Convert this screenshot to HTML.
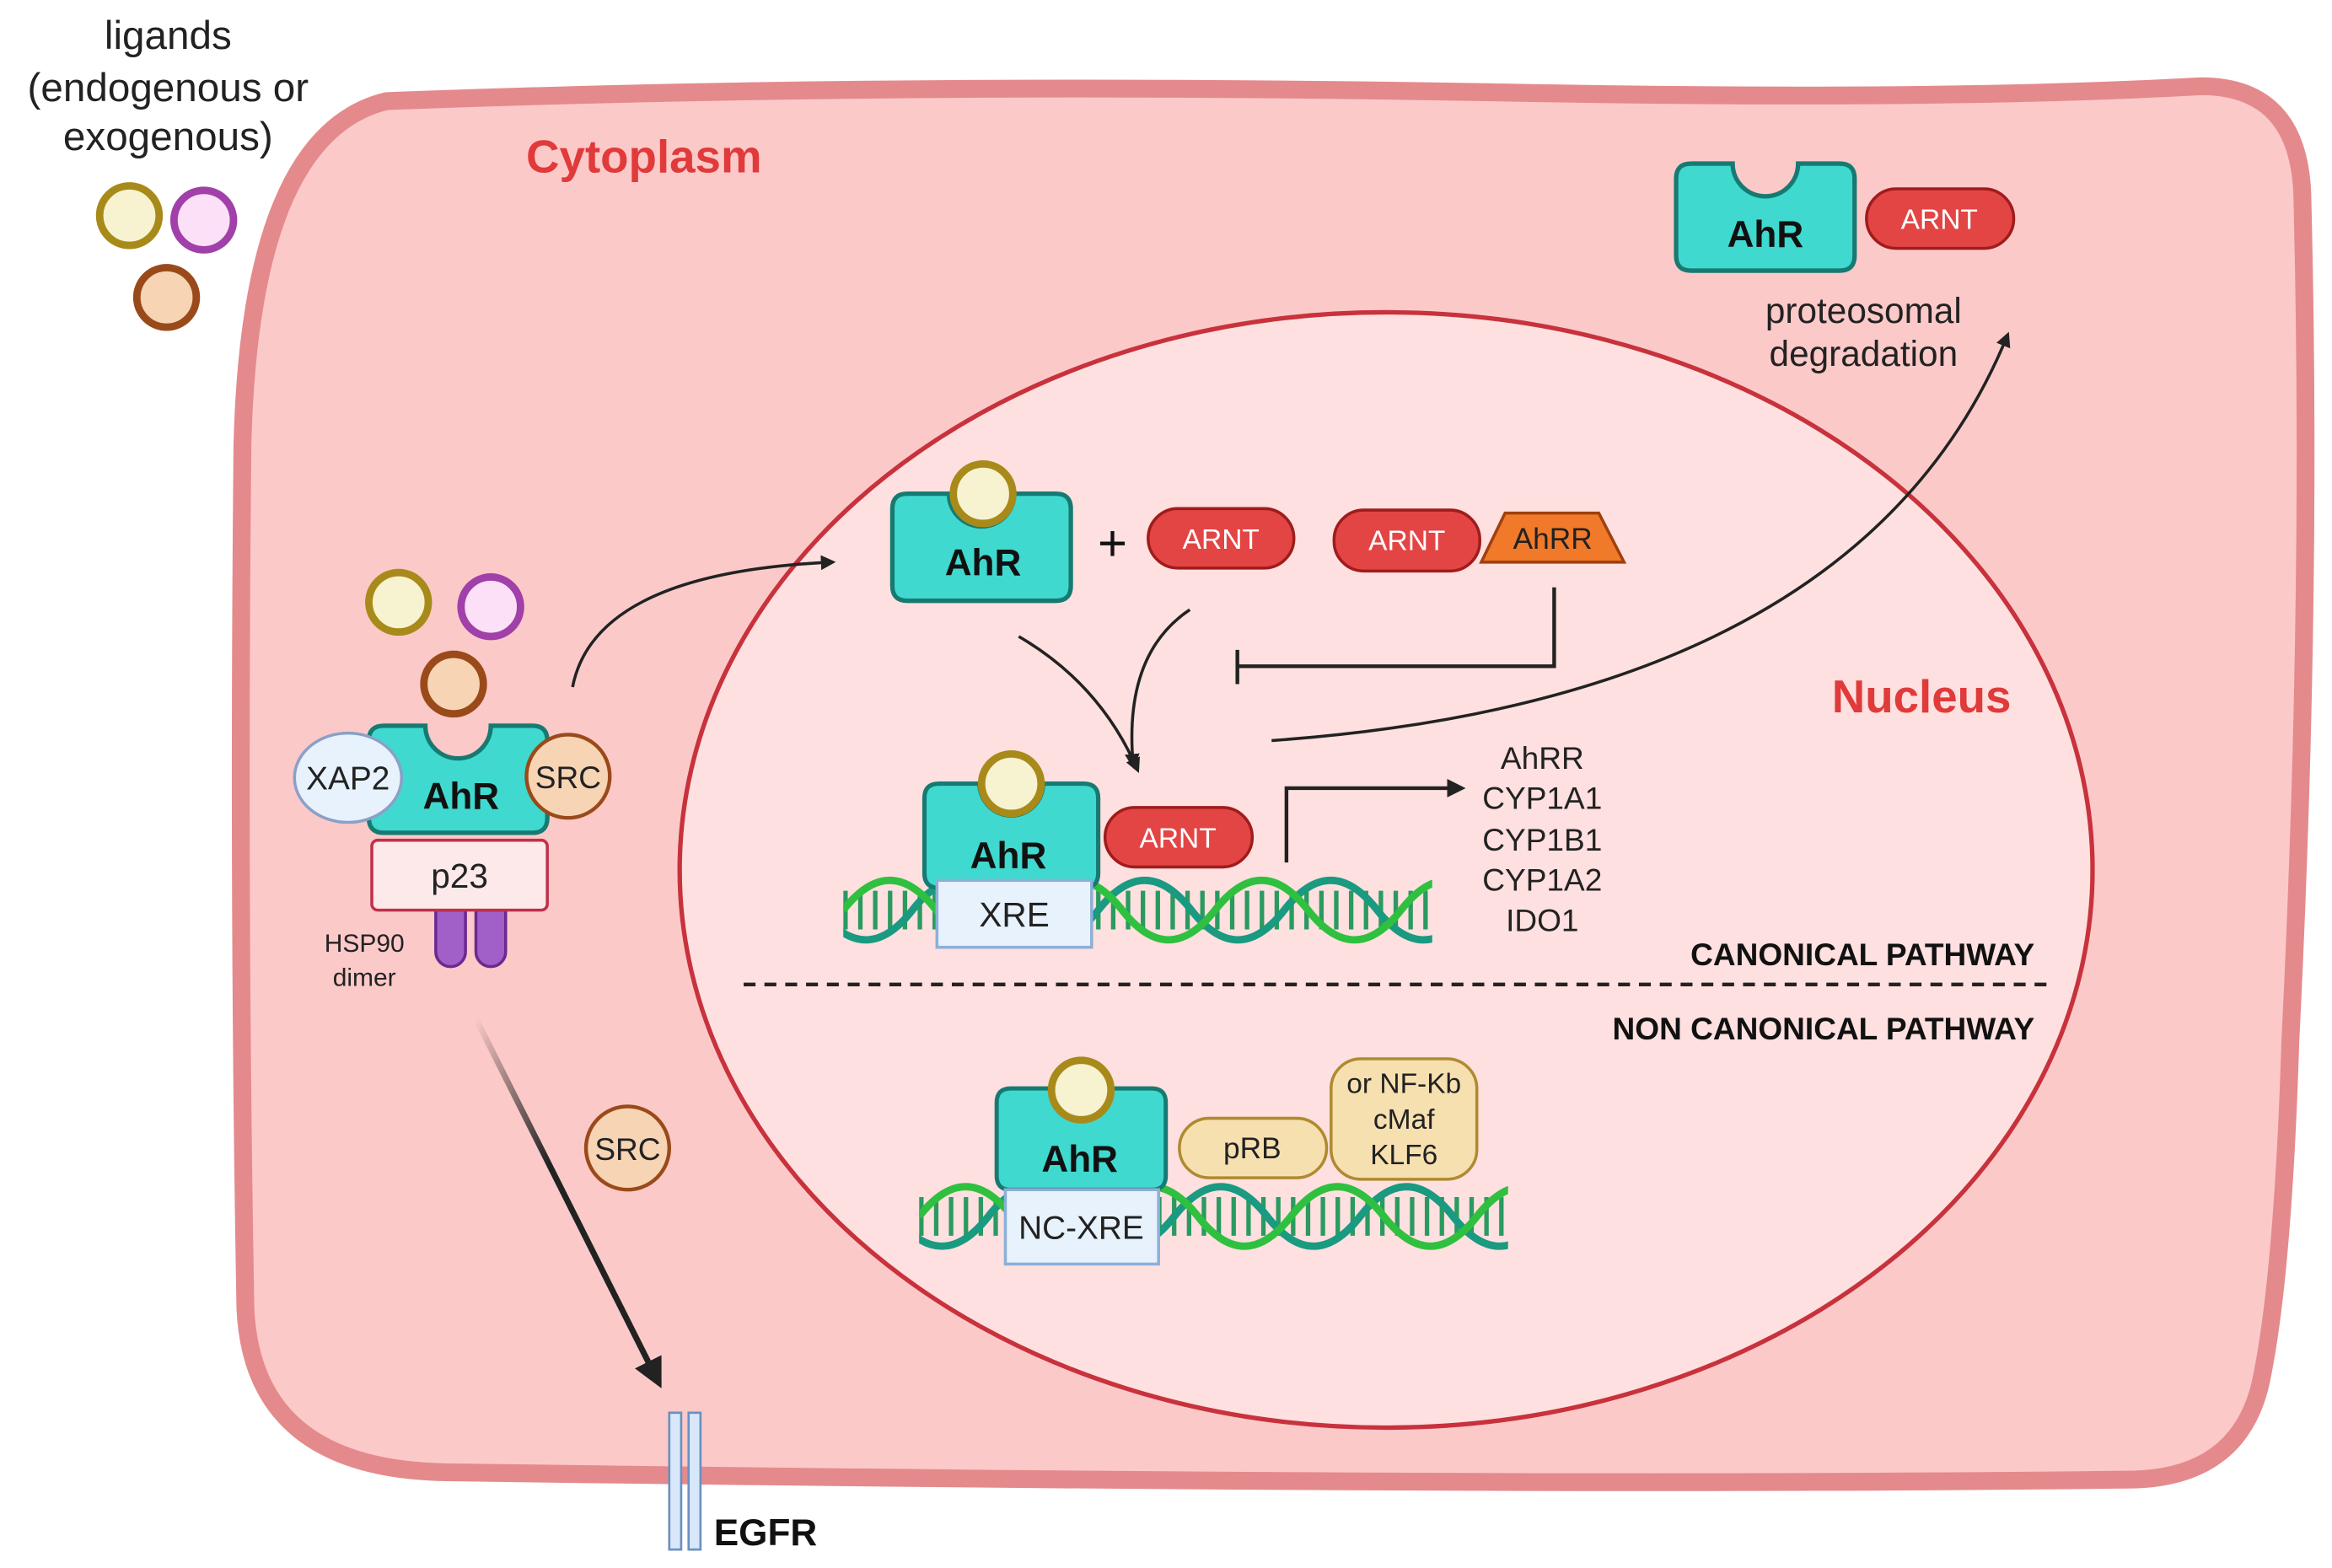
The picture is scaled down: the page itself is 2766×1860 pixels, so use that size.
<!DOCTYPE html>
<html><head><meta charset="utf-8"><style>
html,body{margin:0;padding:0;background:#fff;}
svg{display:block;}
text{font-family:"Liberation Sans",sans-serif;}
</style></head><body>
<svg width="2766" height="1860" viewBox="0 0 1568 1054.4" preserveAspectRatio="none" xmlns="http://www.w3.org/2000/svg">
<defs>
<symbol id="ahr" viewBox="0 0 124 76" overflow="visible">
<path d="M12,2 L40,2 A22,22 0 0 0 84,2 L112,2 Q122,2 122,12 L122,64 Q122,74 112,74 L12,74 Q2,74 2,64 L2,12 Q2,2 12,2 Z" fill="#3fd9cf" stroke="#177a72" stroke-width="3"/>
</symbol>
<marker id="ah" viewBox="0 0 10 10" refX="8" refY="5" markerWidth="5" markerHeight="5" orient="auto"><path d="M0,0 L10,5 L0,10 Z" fill="#222"/></marker>
<linearGradient id="gr" x1="0" y1="0" x2="1" y2="1"><stop offset="0" stop-color="#222" stop-opacity="0"/><stop offset="0.4" stop-color="#222"/></linearGradient>
<clipPath id="c1"><rect x="567" y="570" width="396" height="90"/></clipPath>
<clipPath id="c2"><rect x="618" y="776" width="396" height="90"/></clipPath>
<g id="dna">
<line x1="567" y1="612" x2="963" y2="612" stroke="#2a9a60" stroke-width="26" stroke-dasharray="3 7"/>
<path d="M551,612 Q582.25,652 613.5,612 T676,612 T738.5,612 T801,612 T863.5,612 T926,612 T988.5,612" fill="none" stroke="#1a9a80" stroke-width="5"/>
<path d="M567,612 Q598.25,572 629.5,612 T692,612 T754.5,612 T817,612 T879.5,612 T942,612 T1004.5,612" fill="none" stroke="#30c040" stroke-width="5"/>
</g>
</defs>
<rect width="1568" height="1054.4" fill="#fff"/>
<!-- cell -->
<path d="M260,68 Q600,55 1000,62 Q1300,68 1480,58 Q1545,58 1548,130 Q1555,400 1540,700 Q1535,860 1520,930 Q1505,995 1430,995 Q1000,1000 300,990 Q170,988 165,880 Q160,600 163,300 Q168,90 260,68 Z" fill="#fcc9c9" stroke="#e48a8c" stroke-width="12"/>
<!-- nucleus -->
<ellipse cx="932" cy="585" rx="475" ry="375" fill="#fde0df" stroke="#c8323c" stroke-width="3"/>
<text x="433" y="116" font-size="31" font-weight="bold" fill="#e03a3a" text-anchor="middle">Cytoplasm</text>
<text x="1292" y="479" font-size="31" font-weight="bold" fill="#e03a3a" text-anchor="middle">Nucleus</text>
<!-- ligands -->
<g font-size="27" fill="#222" text-anchor="middle"><text x="113" y="33">ligands</text><text x="113" y="68">(endogenous or</text><text x="113" y="101">exogenous)</text></g>
<g stroke-width="5">
<circle cx="87" cy="145" r="20" fill="#f7f2cf" stroke="#a88a1a"/>
<circle cx="137" cy="148" r="20" fill="#fbe0f7" stroke="#a040a8"/>
<circle cx="112" cy="200" r="20" fill="#f6d4b4" stroke="#9a4a1a"/>
<circle cx="268" cy="405" r="20" fill="#f7f2cf" stroke="#a88a1a"/>
<circle cx="330" cy="408" r="20" fill="#fbe0f7" stroke="#a040a8"/>
<circle cx="305" cy="460" r="20" fill="#f6d4b4" stroke="#9a4a1a"/>
</g>
<!-- top right -->
<use href="#ahr" x="1125" y="107" width="124" height="78"/>
<text x="1187" y="166" font-size="25" font-weight="bold" text-anchor="middle" fill="#111">AhR</text>
<rect x="1255" y="127" width="99" height="40" rx="20" fill="#e34545" stroke="#a01c1c" stroke-width="2"/>
<text x="1304" y="154" font-size="19" fill="#fff" text-anchor="middle">ARNT</text>
<text x="1253" y="217" font-size="24" text-anchor="middle" fill="#222">proteosomal</text>
<text x="1253" y="246" font-size="24" text-anchor="middle" fill="#222">degradation</text>
<path d="M855,498 Q1250,470 1350,225" fill="none" stroke="#222" stroke-width="2" marker-end="url(#ah)"/>
<!-- left complex -->
<path d="M293,612 h20 v28 a10,10 0 0 1 -20,0 Z M320,612 h20 v28 a10,10 0 0 1 -20,0 Z" fill="#a060c8" stroke="#6a2a90" stroke-width="2"/>
<rect x="250" y="565" width="118" height="47" rx="4" fill="#fde8ea" stroke="#c0304a" stroke-width="2"/>
<text x="309" y="597" font-size="23" text-anchor="middle" fill="#222">p23</text>
<use href="#ahr" x="246" y="485" width="124" height="78"/>
<text x="310" y="544" font-size="25" font-weight="bold" text-anchor="middle" fill="#111">AhR</text>
<ellipse cx="234" cy="523" rx="36" ry="30" fill="#e8f2fc" stroke="#8aa0c8" stroke-width="2"/>
<text x="234" y="531" font-size="22" text-anchor="middle" fill="#222">XAP2</text>
<circle cx="382" cy="522" r="28" fill="#f6d4b4" stroke="#9a4a1a" stroke-width="2.5"/>
<text x="382" y="530" font-size="21" text-anchor="middle" fill="#222">SRC</text>
<text x="245" y="640" font-size="17" text-anchor="middle" fill="#222">HSP90</text>
<text x="245" y="663" font-size="17" text-anchor="middle" fill="#222">dimer</text>
<path d="M385,462 Q400,385 560,378" fill="none" stroke="#222" stroke-width="2" marker-end="url(#ah)"/>
<!-- SRC / EGFR -->
<circle cx="422" cy="772" r="28" fill="#f6d4b4" stroke="#9a4a1a" stroke-width="2.5"/>
<text x="422" y="780" font-size="21" text-anchor="middle" fill="#222">SRC</text>
<path d="M320,685 L443,930" stroke="url(#gr)" stroke-width="4" fill="none" marker-end="url(#ah)"/>
<rect x="450" y="950" width="8" height="92" fill="#d8e8fa" stroke="#6a90c0" stroke-width="1.5"/>
<rect x="463" y="950" width="8" height="92" fill="#d8e8fa" stroke="#6a90c0" stroke-width="1.5"/>
<text x="480" y="1039" font-size="25" font-weight="bold" fill="#111">EGFR</text>
<!-- nucleus upper -->
<use href="#ahr" x="598" y="330" width="124" height="76"/>
<circle cx="661" cy="332" r="20" fill="#f7f2cf" stroke="#a88a1a" stroke-width="5"/>
<text x="661" y="387" font-size="25" font-weight="bold" text-anchor="middle" fill="#111">AhR</text>
<text x="748" y="377" font-size="34" text-anchor="middle" fill="#111">+</text>
<rect x="772" y="342" width="98" height="40" rx="20" fill="#e34545" stroke="#a01c1c" stroke-width="2"/>
<text x="821" y="369" font-size="19" fill="#fff" text-anchor="middle">ARNT</text>
<rect x="897" y="343" width="98" height="41" rx="20" fill="#e34545" stroke="#a01c1c" stroke-width="2"/>
<text x="946" y="370" font-size="19" fill="#fff" text-anchor="middle">ARNT</text>
<path d="M1012,345 L1075,345 L1092,378 L996,378 Z" fill="#f07a2a" stroke="#a04010" stroke-width="2"/>
<text x="1044" y="369" font-size="20" text-anchor="middle" fill="#222">AhRR</text>
<path d="M1045,395 V448 H832 M832,437 V460" fill="none" stroke="#222" stroke-width="2.5"/>
<path d="M685,428 Q740,460 765,518" fill="none" stroke="#222" stroke-width="2" marker-end="url(#ah)"/>
<path d="M800,410 Q755,440 762,515" fill="none" stroke="#222" stroke-width="2" marker-end="url(#ah)"/>
<g clip-path="url(#c1)"><use href="#dna"/></g>
<use href="#ahr" x="618" y="525" width="124" height="74"/>
<circle cx="680" cy="527" r="20" fill="#f7f2cf" stroke="#a88a1a" stroke-width="5"/>
<text x="678" y="584" font-size="25" font-weight="bold" text-anchor="middle" fill="#111">AhR</text>
<rect x="743" y="543" width="99" height="40" rx="20" fill="#e34545" stroke="#a01c1c" stroke-width="2"/>
<text x="792" y="570" font-size="19" fill="#fff" text-anchor="middle">ARNT</text>
<rect x="630" y="592" width="104" height="45" fill="#e8f2fc" stroke="#8ab0d8" stroke-width="2"/>
<text x="682" y="623" font-size="23" text-anchor="middle" fill="#222">XRE</text>
<path d="M865,580 V530 H983" fill="none" stroke="#222" stroke-width="2.5" marker-end="url(#ah)"/>
<g font-size="21" text-anchor="middle" fill="#222"><text x="1037" y="517">AhRR</text><text x="1037" y="544">CYP1A1</text><text x="1037" y="572">CYP1B1</text><text x="1037" y="599">CYP1A2</text><text x="1037" y="626">IDO1</text></g>
<text x="1368" y="649" font-size="21" font-weight="bold" text-anchor="end" fill="#111">CANONICAL PATHWAY</text>
<line x1="500" y1="662" x2="1376" y2="662" stroke="#222" stroke-width="2.5" stroke-dasharray="8,6"/>
<text x="1368" y="699" font-size="21" font-weight="bold" text-anchor="end" fill="#111">NON CANONICAL PATHWAY</text>
<!-- non canonical -->
<g clip-path="url(#c2)"><use href="#dna" transform="translate(51,206)"/></g>
<use href="#ahr" x="665" y="730" width="124" height="72"/>
<circle cx="727" cy="733" r="20" fill="#f7f2cf" stroke="#a88a1a" stroke-width="5"/>
<text x="726" y="788" font-size="25" font-weight="bold" text-anchor="middle" fill="#111">AhR</text>
<rect x="793" y="752" width="99" height="40" rx="20" fill="#f7e0b0" stroke="#b08a30" stroke-width="2"/>
<text x="842" y="779" font-size="20" text-anchor="middle" fill="#222">pRB</text>
<rect x="895" y="712" width="98" height="81" rx="20" fill="#f7e0b0" stroke="#b08a30" stroke-width="2"/>
<g font-size="19" text-anchor="middle" fill="#222"><text x="944" y="735">or NF-Kb</text><text x="944" y="759">cMaf</text><text x="944" y="783">KLF6</text></g>
<rect x="676" y="800" width="103" height="50" fill="#e8f2fc" stroke="#8ab0d8" stroke-width="2"/>
<text x="727" y="833" font-size="22" text-anchor="middle" fill="#222">NC-XRE</text>
</svg>
</body></html>
